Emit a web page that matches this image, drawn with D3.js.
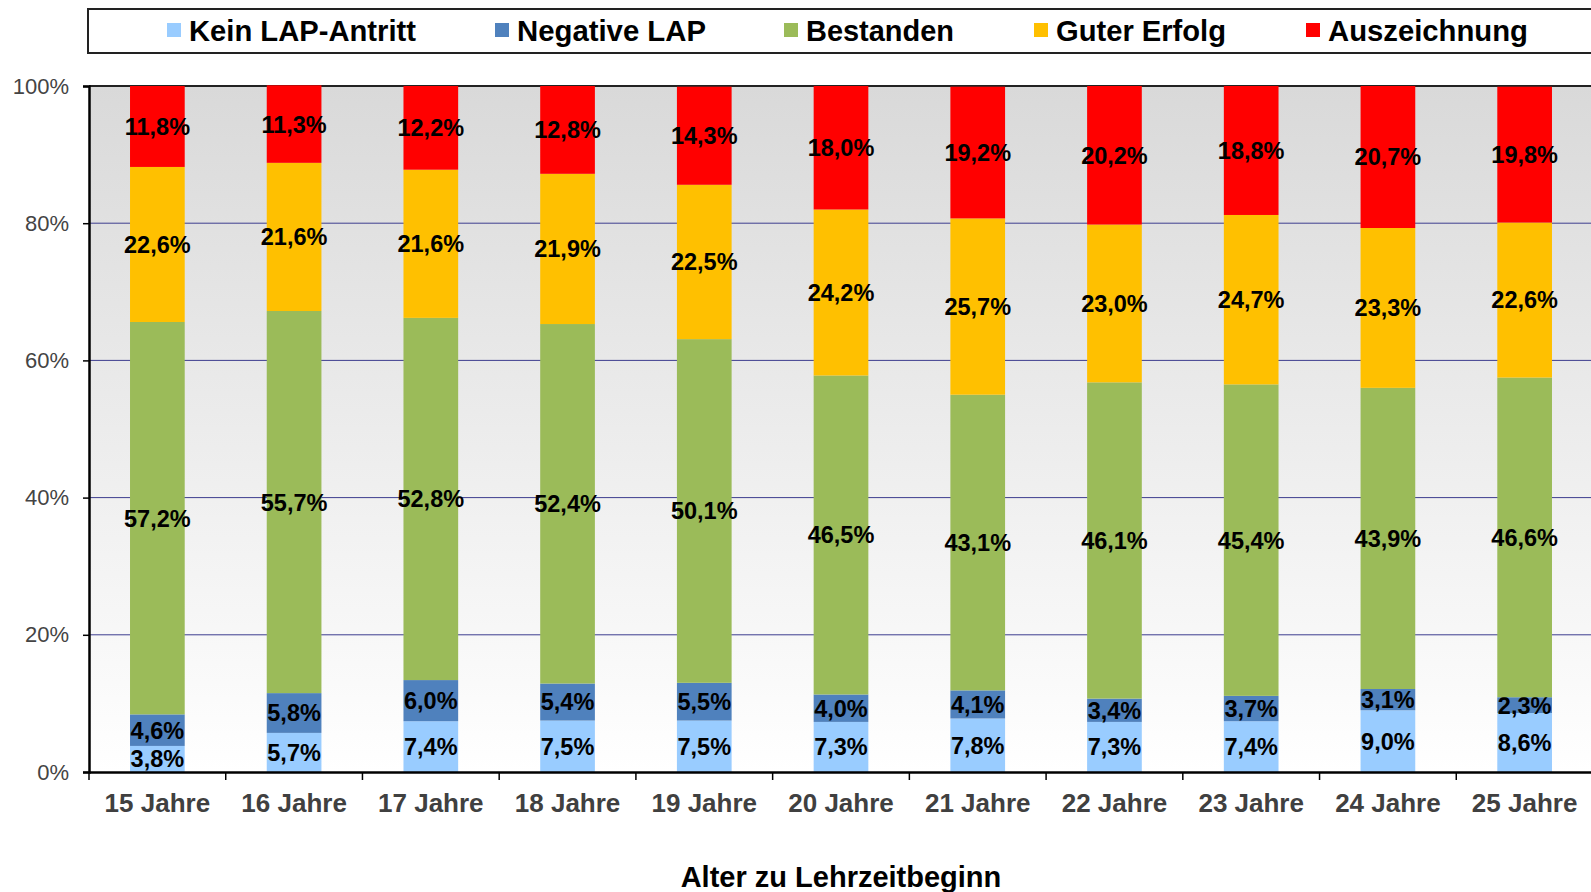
<!DOCTYPE html>
<html>
<head>
<meta charset="utf-8">
<script src="https://cdn.jsdelivr.net/npm/d3@7"></script>
<style>
  body { margin: 0; background: #fff; }
  svg { display: block; font-family: "Liberation Sans", Arial, sans-serif; }
</style>
</head>
<body>
<div id="vis"></div>
<script>
// data
let categories = ["15 Jahre", "16 Jahre", "17 Jahre", "18 Jahre", "19 Jahre", "20 Jahre",
                  "21 Jahre", "22 Jahre", "23 Jahre", "24 Jahre", "25 Jahre"]
let seriesNames = ["Kein LAP-Antritt", "Negative LAP", "Bestanden", "Guter Erfolg", "Auszeichnung"]
let keinAntritt  = [3.8, 5.7, 7.4, 7.5, 7.5, 7.3, 7.8, 7.3, 7.4, 9.0, 8.6]
let negativ      = [4.6, 5.8, 6.0, 5.4, 5.5, 4.0, 4.1, 3.4, 3.7, 3.1, 2.3]
let bestanden    = [57.2, 55.7, 52.8, 52.4, 50.1, 46.5, 43.1, 46.1, 45.4, 43.9, 46.6]
let guterErfolg  = [22.6, 21.6, 21.6, 21.9, 22.5, 24.2, 25.7, 23.0, 24.7, 23.3, 22.6]
let auszeichnung = [11.8, 11.3, 12.2, 12.8, 14.3, 18.0, 19.2, 20.2, 18.8, 20.7, 19.8]
let yTicks = [0, 20, 40, 60, 80, 100]
let colors = ["#99ccff", "#4f81bd", "#9bbb59", "#ffc000", "#ff0000"]

let seriesValues = [keinAntritt, negativ, bestanden, guterErfolg, auszeichnung]

// table for stack
let table = categories.map((c, i) => {
    let row = { cat: c }
    seriesNames.forEach((s, j) => row[s] = seriesValues[j][i])
    return row
})

let svgWidth = 1591
let svgHeight = 892

let margin = { left: 89, top: 86 }
let width = 1504
let height = 686

let svg = d3.select('#vis')
    .append('svg')
    .attr('width', svgWidth)
    .attr('height', svgHeight)

// background gradient
let grad = svg.append('defs').append('linearGradient')
    .attr('id', 'bg').attr('x1', 0).attr('y1', 0).attr('x2', 0).attr('y2', 1)
grad.append('stop').attr('offset', '0%').attr('stop-color', '#d9d9d9')
grad.append('stop').attr('offset', '100%').attr('stop-color', '#ffffff')

let g = svg.append('g')
    .attr('transform', `translate(${margin.left},${margin.top})`)

// scales
let xScale = d3.scaleBand()
    .domain(categories)
    .range([0, width])
    .paddingInner(0.6)
    .paddingOuter(0.3)

let yScale = d3.scaleLinear()
    .domain([0, 100])
    .range([height, 0])

g.append('rect')
    .attr('width', width)
    .attr('height', height)
    .attr('fill', 'url(#bg)')

// grid
g.selectAll('.grid')
    .data(yTicks.filter(d => d > 0 && d < 100))
    .join('line')
    .attr('class', 'grid')
    .attr('x1', 0).attr('x2', width)
    .attr('y1', d => yScale(d)).attr('y2', d => yScale(d))
    .attr('stroke', '#3d3d8f')
    .attr('stroke-width', 1)

// top border
g.append('line')
    .attr('x1', 0).attr('x2', width)
    .attr('y1', 0).attr('y2', 0)
    .attr('stroke', '#222').attr('stroke-width', 2)

// stacked bars
let stack = d3.stack().keys(seriesNames)(table)

let layers = g.selectAll('.layer')
    .data(stack)
    .join('g')
    .attr('class', 'layer')
    .attr('fill', (d, i) => colors[i])

layers.selectAll('rect')
    .data(d => d)
    .join('rect')
    .attr('x', d => xScale(d.data.cat))
    .attr('width', xScale.bandwidth())
    .attr('y', d => yScale(d[1]))
    .attr('height', d => yScale(d[0]) - yScale(d[1]))

layers.selectAll('text')
    .data(d => d.map(p => ({ p: p, key: d.key })))
    .join('text')
    .attr('x', d => xScale(d.p.data.cat) + xScale.bandwidth() / 2)
    .attr('y', d => yScale((d.p[0] + d.p[1]) / 2))
    .attr('dy', '0.36em')
    .attr('text-anchor', 'middle')
    .attr('fill', '#000')
    .attr('font-weight', 'bold')
    .attr('font-size', 23.5)
    .text(d => d.p.data[d.key].toFixed(1).replace('.', ',') + '%')

// y axis
let yAxis = d3.axisLeft(yScale)
    .tickValues(yTicks)
    .tickFormat(d => d + '%')
    .tickSize(6)
    .tickPadding(14)

let yG = g.append('g').call(yAxis)
yG.select('.domain').attr('stroke', '#000').attr('stroke-width', 2.5)
yG.selectAll('.tick line').attr('stroke', '#000').attr('stroke-width', 1.5)
yG.selectAll('.tick text')
    .attr('font-size', 22)
    .attr('fill', '#444')
    .attr('font-family', '"Liberation Sans", Arial, sans-serif')

// x axis
let xAxis = d3.axisBottom(xScale).tickSize(0).tickPadding(22)
let xG = g.append('g')
    .attr('transform', `translate(0,${height})`)
    .call(xAxis)
xG.select('.domain').attr('stroke', '#000').attr('stroke-width', 2.5)
xG.selectAll('.tick text')
    .attr('font-size', 26)
    .attr('font-weight', 'bold')
    .attr('fill', '#404040')
    .attr('font-family', '"Liberation Sans", Arial, sans-serif')

// separators between categories
xG.selectAll('.sep')
    .data(d3.range(categories.length + 1))
    .join('line')
    .attr('class', 'sep')
    .attr('x1', d => d * width / categories.length)
    .attr('x2', d => d * width / categories.length)
    .attr('y1', 0).attr('y2', 8)
    .attr('stroke', '#000').attr('stroke-width', 1.5)

// x title
svg.append('text')
    .attr('x', 841)
    .attr('y', 887)
    .attr('text-anchor', 'middle')
    .attr('font-size', 29)
    .attr('font-weight', 'bold')
    .attr('fill', '#000')
    .text('Alter zu Lehrzeitbeginn')

// legend
svg.append('rect')
    .attr('x', 88).attr('y', 9)
    .attr('width', 1560).attr('height', 44)
    .attr('fill', '#fff')
    .attr('stroke', '#222').attr('stroke-width', 2)

let legendX = [167, 495, 784, 1034, 1306]
let legendW = [227, 189, 148, 170, 200]
let leg = svg.selectAll('.leg')
    .data(seriesNames)
    .join('g')
    .attr('class', 'leg')
    .attr('transform', (d, i) => `translate(${legendX[i]},0)`)

leg.append('rect')
    .attr('x', 0).attr('y', 23)
    .attr('width', 14).attr('height', 14)
    .attr('fill', (d, i) => colors[i])

leg.append('text')
    .attr('x', 22).attr('y', 41)
    .attr('font-size', 30)
    .attr('font-weight', 'bold')
    .attr('fill', '#000')
    .attr('textLength', (d, i) => legendW[i])
    .attr('lengthAdjust', 'spacingAndGlyphs')
    .text(d => d)
</script>
</body>
</html>
